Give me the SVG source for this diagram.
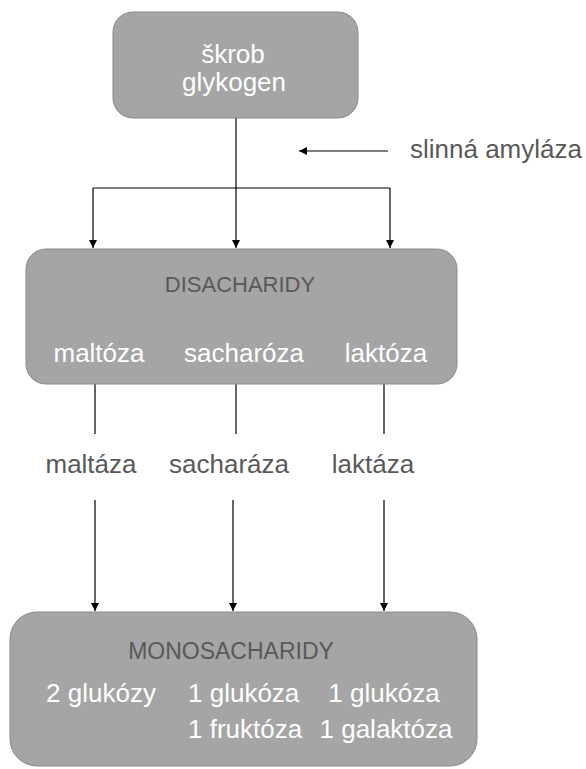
<svg xmlns="http://www.w3.org/2000/svg" width="586" height="769" viewBox="0 0 586 769">
<style>
.box{fill:#a5a5a5;stroke:#8a8a8a;stroke-width:1}
.t{font-family:"Liberation Sans",Arial,sans-serif;font-size:26px}
.w{fill:#ffffff}
.d{fill:#595959}
.h{font-family:"Liberation Sans",Arial,sans-serif;font-size:22px;fill:#595959}
.c{fill:none;stroke:#000;stroke-width:1.2}
</style>
<defs>
<marker id="ah" viewBox="0 0 10 10" refX="10" refY="5" markerWidth="8" markerHeight="8" markerUnits="userSpaceOnUse" orient="auto">
<path d="M0,0 L10,5 L0,10 z" fill="#000"/>
</marker>
</defs>
<rect width="586" height="769" fill="#fff"/>
<g id="connectors">
<line class="c" x1="236" y1="118" x2="236" y2="248" marker-end="url(#ah)"/>
<line class="c" x1="93" y1="188" x2="390" y2="188"/>
<line class="c" x1="93" y1="188" x2="93" y2="248" marker-end="url(#ah)"/>
<line class="c" x1="390" y1="188" x2="390" y2="248" marker-end="url(#ah)"/>
<line class="c" x1="388" y1="151" x2="299" y2="151" marker-end="url(#ah)"/>
<line class="c" x1="95" y1="384" x2="95" y2="434"/>
<line class="c" x1="236" y1="384" x2="236" y2="434"/>
<line class="c" x1="384" y1="384" x2="384" y2="434"/>
<line class="c" x1="95" y1="500" x2="95" y2="611" marker-end="url(#ah)"/>
<line class="c" x1="233" y1="500" x2="233" y2="611" marker-end="url(#ah)"/>
<line class="c" x1="384" y1="500" x2="384" y2="611" marker-end="url(#ah)"/>
</g>
<g id="top">
<rect class="box" x="113" y="12" width="245" height="106" rx="20"/>
<text class="t w" x="233" y="63" text-anchor="middle">škrob</text>
<text class="t w" x="234" y="91" text-anchor="middle">glykogen</text>
</g>
<g id="amylase">
<text class="t d" x="410" y="158">slinná amyláza</text>
</g>
<g id="disacharidy">
<rect class="box" x="26" y="249" width="431" height="135" rx="20"/>
<text class="h" x="240" y="292" text-anchor="middle">DISACHARIDY</text>
<text class="t w" x="99" y="362" text-anchor="middle">maltóza</text>
<text class="t w" x="244" y="362" text-anchor="middle">sacharóza</text>
<text class="t w" x="386" y="362" text-anchor="middle">laktóza</text>
</g>
<g id="enzymes">
<text class="t d" x="91" y="473" text-anchor="middle">maltáza</text>
<text class="t d" x="229" y="473" text-anchor="middle">sacharáza</text>
<text class="t d" x="373" y="473" text-anchor="middle">laktáza</text>
</g>
<g id="monosacharidy">
<rect class="box" x="10" y="612" width="467" height="154" rx="27"/>
<text class="h" x="231" y="659" text-anchor="middle" style="font-size:23px">MONOSACHARIDY</text>
<text class="t w" x="101" y="702" text-anchor="middle">2 glukózy</text>
<text class="t w" x="188" y="702">1 glukóza</text>
<text class="t w" x="384" y="702" text-anchor="middle">1 glukóza</text>
<text class="t w" x="188" y="738">1 fruktóza</text>
<text class="t w" x="386" y="738" text-anchor="middle">1 galaktóza</text>
</g>
</svg>
